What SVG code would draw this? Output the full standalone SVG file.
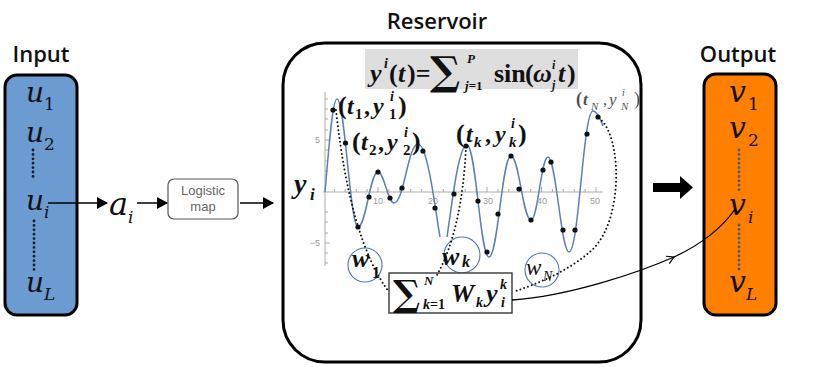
<svg xmlns="http://www.w3.org/2000/svg" width="830" height="367" viewBox="0 0 830 367">
<defs>
<style>
.ttl{font-family:"Open Sans","DejaVu Sans",sans-serif;font-weight:600;font-size:22px;fill:#111}
.var{font-family:"DejaVu Serif",serif;font-style:italic;fill:#111}
.sub{font-family:"DejaVu Serif",serif;font-style:italic;fill:#111;font-size:17px}
.subn{font-family:"DejaVu Serif",serif;fill:#111;font-size:17px}
.m{font-family:"Liberation Serif","Times New Roman",serif;font-weight:bold;fill:#111}
.mi{font-family:"Liberation Serif","Times New Roman",serif;font-weight:bold;font-style:italic;fill:#111}
.sig{font-family:"DejaVu Serif",serif;font-weight:bold;fill:#111}
.tick{font-family:"Liberation Sans",Arial,sans-serif;font-size:9px;fill:#999}
.axis{stroke:#aaa;stroke-width:1;fill:none}
.curve{stroke:#5b80ba;stroke-width:1.5;fill:none}
.dot{fill:#111}
.dotted{stroke:#111;stroke-width:2;fill:none;stroke-dasharray:0 4;stroke-linecap:round}
.col{fill:none;stroke-width:2.8;stroke-dasharray:0 4.4;stroke-linecap:round}
.circ{stroke:#4f79b5;stroke-width:1.1;fill:none}
.arr{stroke:#000;stroke-width:1.5;fill:none}
</style>
<marker id="ah" markerUnits="userSpaceOnUse" markerWidth="11" markerHeight="12" refX="10" refY="6" orient="auto"><path d="M0,0 L11,6 L0,12 z" fill="#000"/></marker>
<marker id="chev" markerUnits="userSpaceOnUse" markerWidth="10" markerHeight="10" refX="8" refY="5" orient="auto"><path d="M1,1 L8,5 L1,9" fill="none" stroke="#000" stroke-width="1.2"/></marker>
</defs>
<rect width="830" height="367" fill="#fff"/>

<g id="input">
<text class="ttl" x="41" y="62" text-anchor="middle">Input</text>
<rect x="5" y="75" width="72" height="240" rx="12" fill="#6b9bd1" stroke="#000" stroke-width="3"/>
<text class="var" font-size="28" x="26" y="102">u</text><text class="subn" x="44" y="110">1</text>
<text class="var" font-size="28" x="26" y="142">u</text><text class="subn" x="44" y="150">2</text>
<path d="M33,150 L33,180" class="col" style="stroke:#1a1a2a"/>
<text class="var" font-size="28" x="26" y="210">u</text><text class="sub" x="44" y="218">i</text>
<path d="M34,221 L34,270" class="col" style="stroke:#1a1a2a"/>
<text class="var" font-size="28" x="26" y="292">u</text><text class="sub" x="44" y="300">L</text>
</g>

<g id="ai">
<text class="var" font-size="32" x="109" y="215">a</text><text class="sub" x="128" y="223" font-size="15">i</text>
</g>

<g id="logistic">
<rect x="168" y="179" width="70" height="40" rx="6" fill="#fff" stroke="#555" stroke-width="1.2"/>
<text x="203" y="195" text-anchor="middle" font-family="Liberation Sans, Arial, sans-serif" font-size="13" fill="#666">Logistic</text>
<text x="203" y="211" text-anchor="middle" font-family="Liberation Sans, Arial, sans-serif" font-size="13" fill="#666">map</text>
</g>

<g id="reservoir">
<text class="ttl" x="437" y="29" text-anchor="middle">Reservoir</text>
<rect x="283" y="43" width="358" height="319" rx="42" fill="#fff" stroke="#000" stroke-width="3"/>
<rect x="365" y="49" width="213" height="40" fill="#dedede"/>
<text class="mi" font-size="26" x="370" y="82">y</text>
<text class="mi" font-size="14" x="384" y="68">i</text>
<text class="m" font-size="26" x="389" y="82">(</text>
<text class="mi" font-size="26" x="398" y="82">t</text>
<text class="m" font-size="26" x="407" y="82">)=</text>
<text class="sig" font-size="40" x="430" y="85">∑</text>
<text class="mi" font-size="13" x="467" y="63">P</text>
<text class="m" font-size="13" x="465" y="90"><tspan font-style="italic">j</tspan>=1</text>
<text class="m" font-size="26" x="494" y="82">sin</text>
<text class="m" font-size="26" x="525" y="82">(</text>
<text class="mi" font-size="26" x="533" y="82">ω</text>
<text class="mi" font-size="12" x="552" y="69">i</text>
<text class="mi" font-size="12" x="552" y="89">j</text>
<text class="mi" font-size="26" x="558" y="82">t</text>
<text class="m" font-size="26" x="567" y="82">)</text>

<g id="chart">
<path class="axis" d="M325,92 V266 M323,192 H603"/>
<path class="axis" d="M334.4,192v-3 M345.3,192v-3 M356.2,192v-3 M367.1,192v-3 M378,192v-5 M388.9,192v-3 M399.8,192v-3 M410.7,192v-3 M421.6,192v-3 M432.5,192v-5 M443.4,192v-3 M454.3,192v-3 M465.2,192v-3 M476.1,192v-3 M487,192v-5 M497.9,192v-3 M508.8,192v-3 M519.7,192v-3 M530.6,192v-3 M541.5,192v-5 M552.4,192v-3 M563.3,192v-3 M574.2,192v-3 M585.1,192v-3 M596,192v-5 M325,140h5 M325,243h5 M325,171h3 M325,161h3 M325,150h3 M325,130h3 M325,119h3 M325,109h3 M325,99h3 M325,212h3 M325,222h3 M325,233h3 M325,253h3 M325,263h3"/>
<text class="tick" x="320" y="143" text-anchor="end">5</text>
<text class="tick" x="320" y="246" text-anchor="end">−5</text>
<text class="tick" x="378" y="204" text-anchor="middle">10</text>
<text class="tick" x="433" y="204" text-anchor="middle">20</text>
<text class="tick" x="488" y="204" text-anchor="middle">30</text>
<text class="tick" x="542" y="204" text-anchor="middle">40</text>
<text class="tick" x="595" y="204" text-anchor="middle">50</text>
<path class="curve" d="M325,192 C328,160 332,99 337,99 C345,99 350,227 358,227 C366,227 370,172 378,172 C384,172 388,203 394,203 C404,203 408,144 418,144 C428,144 436,215 440,237"/>
<path class="curve" d="M447,237 C451,212 458,145 467,145 C476,145 480,257 489,257 C498,257 502,156 511,156 C519,156 523,220 531,220 C538,220 541,157 548,157 C556,157 561,252 569,252 C579,252 583,111 593,111 C597,111 600,118 603,126"/>
<g class="dot">
<circle cx="333" cy="110" r="2.6"/><circle cx="345.5" cy="143" r="2.6"/><circle cx="358" cy="227" r="2.6"/><circle cx="369" cy="197" r="2.6"/><circle cx="378" cy="172" r="2.6"/><circle cx="390" cy="198" r="2.6"/><circle cx="402" cy="188" r="2.6"/><circle cx="423" cy="151" r="2.6"/><circle cx="435" cy="208" r="2.6"/><circle cx="454" cy="194" r="2.6"/><circle cx="466" cy="146" r="2.6"/><circle cx="478" cy="201" r="2.6"/><circle cx="487" cy="252" r="2.6"/><circle cx="498" cy="214" r="2.6"/><circle cx="511" cy="156" r="2.6"/><circle cx="519" cy="189" r="2.6"/><circle cx="531" cy="220" r="2.6"/><circle cx="543" cy="170" r="2.6"/><circle cx="551" cy="162" r="2.6"/><circle cx="563" cy="230" r="2.6"/><circle cx="575" cy="230" r="2.6"/><circle cx="587" cy="134" r="2.6"/><circle cx="598" cy="117" r="2.6"/>
</g>
<text class="mi" font-size="28" x="294" y="193">y</text><text class="mi" font-size="17" x="310" y="200">i</text>
</g>

<g id="labels">
<text class="m" font-size="26" x="338" y="114">(</text><text class="mi" font-size="24" x="347" y="114">t</text><text class="m" font-size="15" x="355" y="119">1</text><text class="m" font-size="24" x="364" y="114">,</text><text class="mi" font-size="24" x="373" y="114">y</text><text class="mi" font-size="14" x="390" y="101">i</text><text class="m" font-size="15" x="389" y="119">1</text><text class="m" font-size="26" x="398" y="114">)</text>
<text class="m" font-size="26" x="352" y="150">(</text><text class="mi" font-size="24" x="361" y="150">t</text><text class="m" font-size="15" x="369" y="155">2</text><text class="m" font-size="24" x="378" y="150">,</text><text class="mi" font-size="24" x="387" y="150">y</text><text class="mi" font-size="14" x="404" y="137">i</text><text class="m" font-size="15" x="403" y="155">2</text><text class="m" font-size="26" x="412" y="150">)</text>
<text class="m" font-size="26" x="456" y="142">(</text><text class="mi" font-size="24" x="466" y="142">t</text><text class="mi" font-size="15" x="474" y="147">k</text><text class="m" font-size="24" x="485" y="142">,</text><text class="mi" font-size="24" x="495" y="142">y</text><text class="mi" font-size="14" x="511" y="128">i</text><text class="mi" font-size="15" x="509" y="147">k</text><text class="m" font-size="26" x="518" y="142">)</text>
<g opacity="0.75"><text class="m" font-size="18" x="576" y="105">(</text><text class="mi" font-size="17" x="583" y="105">t</text><text font-family="Liberation Serif,serif" font-style="italic" font-size="11" x="591" y="110" fill="#111">N</text><text font-family="Liberation Serif,serif" font-size="16" x="603" y="105" fill="#111">,</text><text font-family="Liberation Serif,serif" font-style="italic" font-size="17" x="609" y="105" fill="#111">y</text><text font-family="Liberation Serif,serif" font-style="italic" font-size="10" x="622" y="96" fill="#111">i</text><text font-family="Liberation Serif,serif" font-style="italic" font-size="11" x="621" y="110" fill="#111">N</text><text font-family="Liberation Serif,serif" font-size="18" x="634" y="105" fill="#111">)</text></g>
</g>

<g id="weights">
<circle class="circ" cx="365" cy="265" r="17"/>
<circle class="circ" cx="462" cy="255" r="18"/>
<circle class="circ" cx="542" cy="270" r="17"/>
<text class="mi" font-size="26" x="352" y="267">w</text><text class="m" font-size="16" x="372" y="278">1</text>
<text class="mi" font-size="26" x="442" y="265">w</text><text class="mi" font-size="16" x="462" y="267">k</text>
<text font-family="Liberation Serif,serif" font-style="italic" font-size="23" x="526" y="275" fill="#111">w</text><text font-family="Liberation Serif,serif" font-style="italic" font-size="14" x="543" y="281" fill="#111">N</text>
</g>

<g id="sumbox">
<rect x="389" y="273" width="123" height="40" fill="#fff" stroke="#444" stroke-width="1.5"/>
<text class="sig" font-size="36" x="393" y="306">∑</text>
<text class="mi" font-size="13" x="424" y="285">N</text>
<text class="m" font-size="14" x="423" y="309"><tspan font-style="italic">k</tspan>=1</text>
<text class="mi" font-size="26" x="451" y="302">W</text>
<text class="mi" font-size="14" x="476" y="307">k</text>
<text class="mi" font-size="26" x="486" y="302">y</text>
<text class="mi" font-size="14" x="500" y="289">k</text>
<text class="mi" font-size="14" x="501" y="307">i</text>
</g>
</g>

<g id="output">
<text class="ttl" x="738" y="62" text-anchor="middle">Output</text>
<rect x="704" y="74" width="72" height="241" rx="12" fill="#ff8000" stroke="#000" stroke-width="3"/>
<text class="var" font-size="30" x="729" y="102">v</text><text class="subn" x="748" y="110">1</text>
<text class="var" font-size="30" x="729" y="138">v</text><text class="subn" x="748" y="146">2</text>
<path d="M739,150 L739,192" class="col" style="stroke:#4a5a7a"/>
<text class="var" font-size="30" x="729" y="215">v</text><text class="sub" x="748" y="223">i</text>
<path d="M739,225 L739,272" class="col" style="stroke:#4a5a7a"/>
<text class="var" font-size="30" x="729" y="292">v</text><text class="sub" x="746" y="300">L</text>
</g>

<g id="connectors">
<path class="arr" d="M48,203 H107" marker-end="url(#ah)"/>
<path class="arr" d="M137,203 H167" marker-end="url(#ah)"/>
<path class="arr" d="M240,203 H273" marker-end="url(#ah)"/>
<path class="dotted" d="M336,110 Q350,240 389,292"/>
<path class="dotted" d="M466,147 Q462,230 437,275"/>
<path class="dotted" d="M599,118 C622,135 624,220 592,250 C570,270 540,283 513,292"/>
<path d="M512,300 C570,296 640,272 674,257 C700,245 722,228 736,208" fill="none" stroke="#000" stroke-width="1.3" marker-mid="url(#chev)"/>
<path d="M653,183 H680 V176 L693,187.5 L680,199 V192 H653 z" fill="#000"/>
</g>
</svg>
